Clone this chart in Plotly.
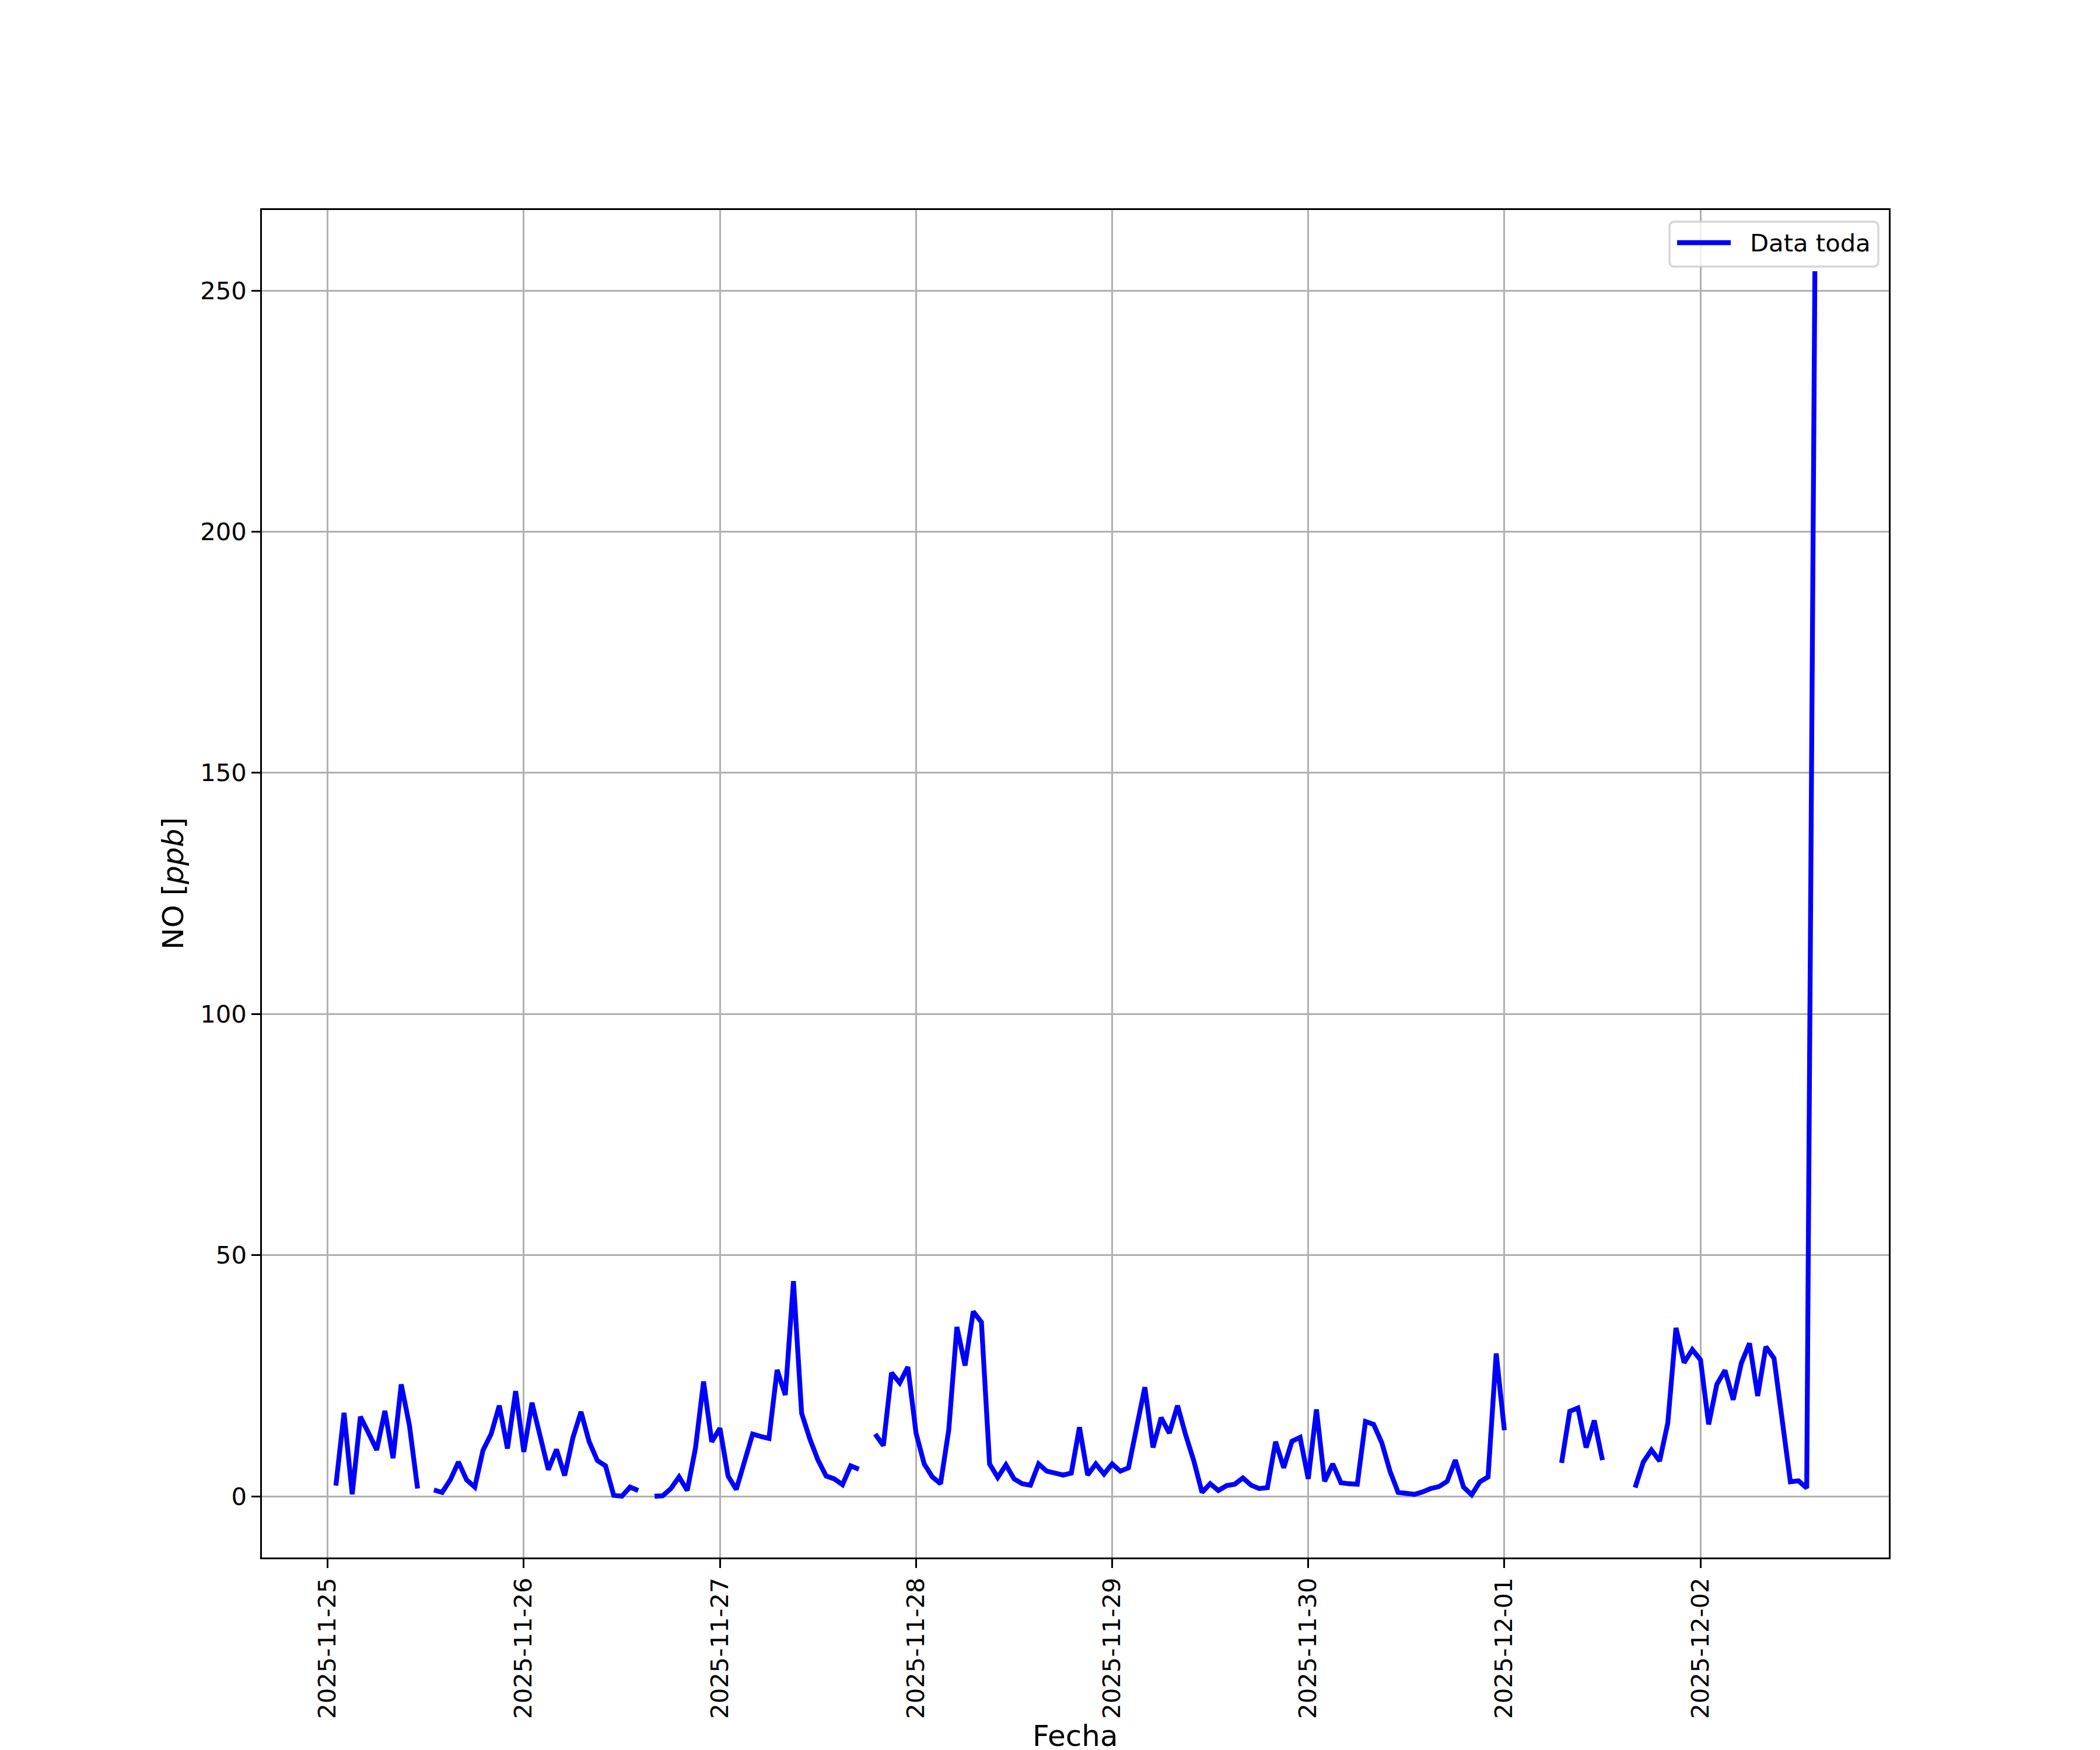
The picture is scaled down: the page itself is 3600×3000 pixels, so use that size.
import pandas as pd
import plotly.graph_objects as go

# ---- data: hourly NO [ppb]; None = missing hour ----
no_nov25 = [2.2, 17.3, 0.4, 16.5, 13.1, 9.6, 17.7, 7.9, 23.2, 14.7, 1.6, None,
            1.3, 0.8, 3.4, 7.1, 3.4, 1.9, 9.5, 12.9, 18.8, 9.9, 21.8]          # from 01:00
no_nov26 = [9.2, 19.4, 12.5, 5.5, 9.7, 4.3, 12.1, 17.5, 11.3, 7.4, 6.3, 0.2,
            0.0, 1.9, 1.2, None, 0.0, 0.1, 1.6, 4.0, 1.2, 9.9, 23.8, 11.3]
no_nov27 = [14.1, 4.2, 1.4, 7.3, 12.9, 12.4, 12.0, 26.2, 21.0, 44.6, 17.2, 11.9,
            7.5, 4.2, 3.6, 2.4, 6.3, 5.6, None, 12.9, 10.5, 25.6, 23.5, 26.8]
no_nov28 = [13.1, 6.7, 4.0, 2.6, 13.7, 35.1, 27.1, 38.3, 36.1, 6.7, 3.9, 6.5,
            3.6, 2.6, 2.3, 6.7, 5.2, 4.8, 4.4, 4.8, 14.3, 4.4, 6.7, 4.6]
no_nov29 = [6.7, 5.2, 5.9, 14.3, 22.6, 10.1, 16.3, 13.1, 18.8, 12.7, 7.3, 0.8,
            2.6, 1.2, 2.2, 2.5, 3.8, 2.3, 1.6, 1.8, 11.3, 5.9, 11.4, 12.2]
no_nov30 = [3.6, 18.0, 3.1, 6.7, 2.8, 2.6, 2.5, 15.5, 14.9, 11.1, 5.2, 0.8,
            0.5, 0.4, 0.9, 1.6, 2.0, 3.1, 7.5, 1.9, 0.3, 3.0, 4.0, 29.6]
no_dec01 = [13.7, None, None, None, None, None, None, 6.9, 17.6, 18.3, 10.1, 15.7,
            7.5, None, None, None, 1.8, 7.1, 9.6, 7.3, 15.2, 34.9, 27.7, 30.4]
no_dec02 = [28.3, 14.9, 23.2, 26.1, 20.0, 27.6, 31.7, 20.8, 31.0, 28.6, 15.8, 3.0,
            3.2, 1.7, 254.0]                                                   # to 14:00

day_starts = ["2025-11-25 01:00", "2025-11-26 00:00", "2025-11-27 00:00", "2025-11-28 00:00",
              "2025-11-29 00:00", "2025-11-30 00:00", "2025-12-01 00:00", "2025-12-02 00:00"]
day_values = [no_nov25, no_nov26, no_nov27, no_nov28, no_nov29, no_nov30, no_dec01, no_dec02]

tick_dates = ["2025-11-25", "2025-11-26", "2025-11-27", "2025-11-28",
              "2025-11-29", "2025-11-30", "2025-12-01", "2025-12-02"]
y_ticks = [0, 50, 100, 150, 200, 250]

times, values = [], []
for start, vals in zip(day_starts, day_values):
    times.extend(pd.date_range(start, periods=len(vals), freq="h"))
    values.extend(vals)

# ---- figure geometry (pixels, page coordinates; page body has an 8px margin) ----
OFF = 8
W, H = 3600, 3000
L, R, T, B = 449 - OFF, 3238 - OFF, 360 - OFF, 2670 - OFF
pw, ph = R - L, B - T

def px2paper(x, y):
    # x, y given in page pixels
    return (x - OFF - L) / pw, (B - (y - OFF)) / ph

# matplotlib-like autoscale margins
valid = [v for v in values if v is not None]
ymin, ymax = min(valid), max(valid)
yr = ymax - ymin
t0, t1 = times[0], times[-1]
span = t1 - t0
x_range = [t0 - 0.05 * span, t1 + 0.05 * span]
y_range = [ymin - 0.05 * yr, ymax + 0.05 * yr]

FONT = "DejaVu Sans"
BLUE = "#0000ff"

fig = go.Figure()
fig.add_trace(go.Scatter(x=times, y=values, mode="lines", name="Data toda",
                         line=dict(color=BLUE, width=8.3), connectgaps=False,
                         showlegend=False))

axis_common = dict(showline=True, mirror=True, linecolor="black", linewidth=3.3,
                   ticks="outside", ticklen=14.6, tickwidth=3.3, tickcolor="black",
                   showgrid=True, gridcolor="#b0b0b0", gridwidth=3.3, zeroline=False,
                   tickfont=dict(family=FONT, size=41.7, color="black"))

fig.update_layout(
    width=W, height=H,
    margin=dict(l=L, r=W - R, t=T, b=H - B, pad=0),
    paper_bgcolor="white", plot_bgcolor="white",
    font=dict(family=FONT, size=41.7, color="black"),
    xaxis=dict(range=x_range, tickmode="array", tickvals=tick_dates, ticktext=tick_dates,
               tickangle=-90, **axis_common),
    yaxis=dict(range=y_range, tickmode="array", tickvals=y_ticks,
               ticktext=[str(v) for v in y_ticks], **axis_common),
    showlegend=False,
)

# axis titles
fx, fy = px2paper(0, 2976)
fig.add_annotation(text="Fecha", xref="paper", yref="paper", x=0.5, y=fy,
                   xanchor="center", yanchor="middle", showarrow=False,
                   font=dict(family=FONT, size=50, color="black"))
lx, ly = px2paper(297, 1515)
fig.add_annotation(text="NO [<i>ppb</i>]", xref="paper", yref="paper", x=lx, y=ly,
                   xanchor="center", yanchor="middle", textangle=-90, showarrow=False,
                   font=dict(family=FONT, size=50, color="black"))

# legend (matplotlib style, rounded frame)
bx0, by0, bx1, by1, rad = 2862, 380, 3220, 457, 9
def P(x, y):
    a, b = px2paper(x, y)
    return f"{a:.6f},{b:.6f}"
path = (f"M {P(bx0 + rad, by0)} L {P(bx1 - rad, by0)} Q {P(bx1, by0)} {P(bx1, by0 + rad)} "
        f"L {P(bx1, by1 - rad)} Q {P(bx1, by1)} {P(bx1 - rad, by1)} "
        f"L {P(bx0 + rad, by1)} Q {P(bx0, by1)} {P(bx0, by1 - rad)} "
        f"L {P(bx0, by0 + rad)} Q {P(bx0, by0)} {P(bx0 + rad, by0)} Z")
fig.add_shape(type="path", path=path, xref="paper", yref="paper",
              fillcolor="rgba(255,255,255,0.8)", line=dict(color="rgba(204,204,204,0.8)", width=3.3),
              layer="above")
lx0, ly0 = px2paper(2875, 416)
lx1, _ = px2paper(2967, 416)
fig.add_shape(type="line", xref="paper", yref="paper", x0=lx0, x1=lx1, y0=ly0, y1=ly0,
              line=dict(color=BLUE, width=8.3), layer="above")
tx, ty = px2paper(2998, 416)
fig.add_annotation(text="Data toda", xref="paper", yref="paper", x=tx, y=ty,
                   xanchor="left", yanchor="middle", showarrow=False,
                   font=dict(family=FONT, size=41.7, color="black"))

fig.write_html("out.html")
